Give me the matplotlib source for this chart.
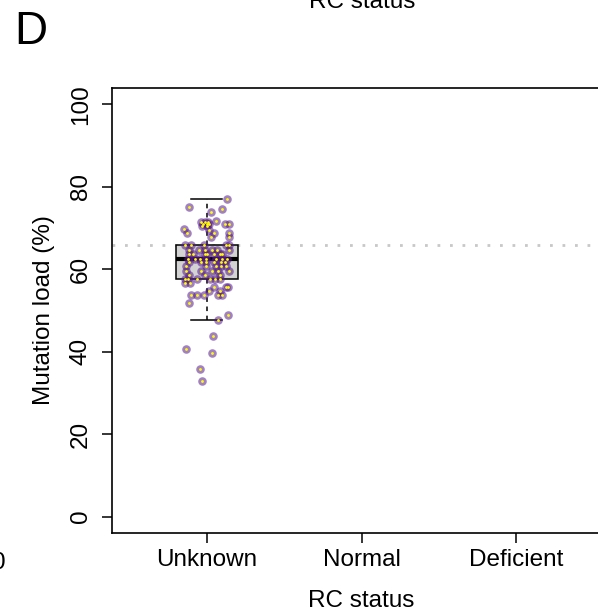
import numpy as np
import matplotlib.pyplot as plt

plt.rcParams['font.family'] = ['Liberation Sans', 'DejaVu Sans']

# groups on the x axis
groups = ['Unknown', 'Normal', 'Deficient']

# mutation load (%) of the "Unknown" samples
load_unknown = [
    77, 75, 74.7, 73.8, 71.8,
    71.6, 71.6, 71.6, 71.0, 71.0, 71.0, 70.5, 70.5,
    70.9, 70.9, 69.8, 68.8, 69.6, 68.8, 67.8, 68.8, 67.8,
    65.8, 65.8, 65.8, 65.8, 65.8,
    64.7, 64.7, 64.7, 64.7, 64.7, 64.7,
    63.7, 63.7, 63.7, 63.7, 63.7, 63.7, 63.7,
    62.6, 62.6, 62.6, 62.6, 62.6, 62.6, 62.6,
    61.7, 61.7, 61.7, 61.7, 61.7, 61.7,
    60.7, 60.7, 60.7, 60.7, 60.7,
    59.7, 59.7, 59.7, 59.7, 59.7,
    58.7, 58.7, 58.7,
    57.7, 57.7, 57.7, 57.7, 57.7, 57.7,
    56.6, 56.6, 55.8, 55.8, 55.8, 54.7, 54.7,
    53.8, 53.8, 53.8, 53.8, 53.8,
    51.8, 48.8, 47.7, 43.8, 40.7, 39.7, 35.7, 32.8,
]
# horizontal jitter of each point (group units)
jitter_unknown = [
    0.131, -0.114, 0.099, 0.032, 0.058,
    -0.034, -0.013, 0.008, -0.026, 0.0, 0.019, -0.03, 0.0,
    0.12, 0.142, -0.146, -0.127, 0.019, 0.045, 0.026, 0.148, 0.148,
    -0.142, -0.099, -0.019, 0.123, 0.148,
    -0.114, -0.05, -0.008, 0.037, 0.144, 0.07,
    -0.116, -0.09, -0.013, 0.006, 0.045, 0.084, 0.103,
    -0.12, -0.077, -0.045, -0.002, 0.062, 0.101, 0.131,
    -0.11, -0.034, -0.002, 0.045, 0.095, 0.116,
    -0.131, -0.002, 0.062, 0.095, 0.127,
    -0.131, -0.034, 0.037, 0.073, 0.144,
    -0.11, -0.013, 0.084,
    -0.137, -0.12, -0.063, 0.024, 0.052, 0.084,
    -0.142, -0.105, 0.045, 0.123, 0.137, 0.015, 0.088,
    -0.099, -0.06, -0.019, 0.077, 0.099,
    -0.116, 0.14, 0.077, 0.043, -0.131, 0.034, -0.039, -0.032,
]
ref_line = 66
y_ticks = [0, 20, 40, 60, 80, 100]

fs = 17.5

fig = plt.figure(figsize=(5.98, 6.16), dpi=100)
ax = fig.add_axes([112 / 598, 1 - 533 / 616, 499 / 598, 445 / 616])

ax.axhline(ref_line, color='#c8c8c8', lw=2, linestyle=(0, (1, 3.5)), zorder=1)

ax.boxplot([load_unknown], positions=[1], widths=0.4, showfliers=False,
           patch_artist=True, capwidths=0.2,
           boxprops=dict(facecolor='#d3d3d3', edgecolor='black', linewidth=1.1),
           medianprops=dict(color='black', linewidth=3),
           whiskerprops=dict(color='black', linewidth=1.1, linestyle=(0, (3, 3))),
           capprops=dict(color='black', linewidth=1.1), zorder=2)

xs = 1 + np.array(jitter_unknown)
ax.scatter(xs, load_unknown, s=38, color='#551A8B', alpha=0.55, linewidths=0, zorder=3)
ax.scatter(xs, load_unknown, s=4, color='#ffff00', linewidths=0, zorder=4)

ax.set_xlim(0.39, 3.61)
ax.set_ylim(-4, 104)
ax.set_xticks([1, 2, 3])
ax.set_xticklabels(groups)
ax.set_yticks(y_ticks)
ax.set_yticklabels([str(t) for t in y_ticks], rotation=90, va='center')
ax.tick_params(axis='both', labelsize=fs, length=7.5, width=1.1)
ax.tick_params(axis='y', pad=7)
ax.tick_params(axis='x', pad=4)
for sp in ax.spines.values():
    sp.set_linewidth(1.2)

ax.set_xlabel('RC status', fontsize=fs, labelpad=14)
ax.set_ylabel('Mutation load (%)', fontsize=fs, labelpad=11)

# panel letter and bits of the neighbouring panels
fig.text(14 / 598, 1 - 44 / 616, 'D', fontsize=33, ha='left', va='baseline')
fig.text(362 / 598, 1 - 8 / 616, 'RC status', fontsize=fs, ha='center', va='baseline')
fig.text(6 / 598, 1 - 569 / 616, '0', fontsize=fs, ha='right', va='baseline')

fig.savefig('out.png', dpi=100)
